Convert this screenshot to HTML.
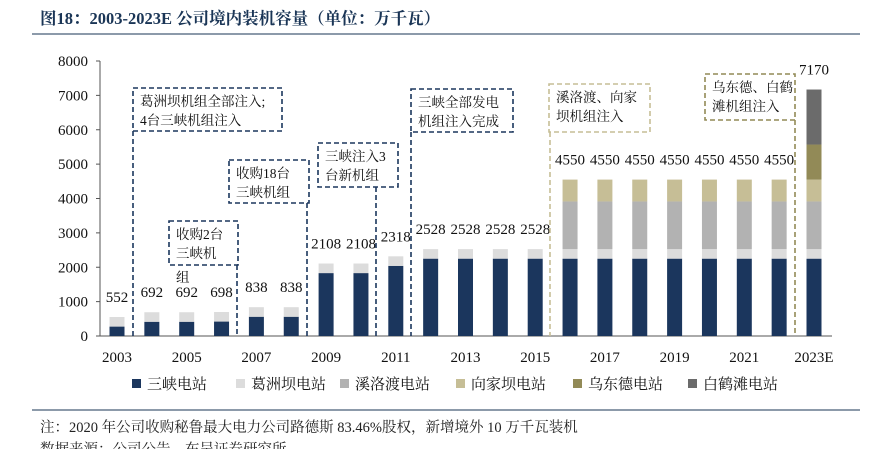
<!DOCTYPE html>
<html><head><meta charset="utf-8"><style>
body{margin:0;background:#fff;width:869px;height:449px;overflow:hidden;font-family:"Liberation Serif","Noto Serif CJK SC",serif;}
</style></head><body>
<svg width="869" height="449" xmlns="http://www.w3.org/2000/svg" style="font-family:'Liberation Serif','Noto Serif CJK SC',serif">
<text x="40" y="24" font-size="16.5" font-weight="bold" fill="#1a3556">图18：2003-2023E 公司境内装机容量（单位：万千瓦）</text>
<line x1="32" y1="34" x2="860" y2="34" stroke="#1a3556" stroke-width="1"/>
<g id="plot"></g>
<g id="legend"></g>
<line x1="32" y1="410" x2="860" y2="410" stroke="#1a3556" stroke-width="1"/>
<text x="40" y="432" font-size="14.5" fill="#222">注：2020 年公司收购秘鲁最大电力公司路德斯 83.46%股权，新增境外 10 万千瓦装机</text>
<text x="40" y="454" font-size="14.5" fill="#222">数据来源：公司公告，东吴证券研究所</text>
</svg>
<script>
const years=["2003","2004","2005","2006","2007","2008","2009","2010","2011","2012","2013","2014","2015","2016","2017","2018","2019","2020","2021","2022","2023E"];
const sanxia=[274,414,414,420,560,560,1830,1830,2040,2250,2250,2250,2250,2250,2250,2250,2250,2250,2250,2250,2250];
const gezhouba=[278,278,278,278,278,278,278,278,278,278,278,278,278,278,278,278,278,278,278,278,278];
const xiluodu=[0,0,0,0,0,0,0,0,0,0,0,0,0,1386,1386,1386,1386,1386,1386,1386,1386];
const xiangjiaba=[0,0,0,0,0,0,0,0,0,0,0,0,0,636,636,636,636,636,636,636,636];
const wudongde=[0,0,0,0,0,0,0,0,0,0,0,0,0,0,0,0,0,0,0,0,1020];
const baihetan=[0,0,0,0,0,0,0,0,0,0,0,0,0,0,0,0,0,0,0,0,1600];
const totals=["552","692","692","698","838","838","2108","2108","2318","2528","2528","2528","2528","4550","4550","4550","4550","4550","4550","4550","7170"];
const yTicks=[0,1000,2000,3000,4000,5000,6000,7000,8000];
const seriesNames=["三峡电站","葛洲坝电站","溪洛渡电站","向家坝电站","乌东德电站","白鹤滩电站"];
const colors=["#1b365d","#dcdcdc","#b2b2b2","#c6be96","#928a57","#6b6b6b"];
const series=[sanxia,gezhouba,xiluodu,xiangjiaba,wudongde,baihetan];
const NS="http://www.w3.org/2000/svg";
const y0=336,yTop=61,yMax=8000;
function ys(v){return y0-v/yMax*(y0-yTop);}
function xs(i){return 117+i*34.85;}
const g=document.getElementById('plot');
function mk(t,a,p){const e=document.createElementNS(NS,t);for(const k in a)e.setAttribute(k,a[k]);(p||g).appendChild(e);return e;}
let ax=mk('line',{x1:100,y1:yTop,x2:100,y2:y0,stroke:'#555'});


let bx=mk('line',{x1:100,y1:y0,x2:832,y2:y0,stroke:'#555'});


yTicks.forEach(v=>{
 mk('line',{x1:96,y1:ys(v),x2:100,y2:ys(v),stroke:'#555'});
 const t=mk('text',{x:88,y:ys(v)+5,'text-anchor':'end','font-size':15,fill:'#111'});t.textContent=v;
 
 
});
years.forEach((yr,i)=>{
 let acc=0;
 series.forEach((s,k)=>{
  if(s[i]<=0)return;
  const r=mk('rect',{x:xs(i)-7.5,y:ys(acc+s[i]),width:15,height:ys(acc)-ys(acc+s[i]),fill:colors[k]});
  
  
  acc+=s[i];
 });
 const t=mk('text',{x:xs(i),y:ys(acc)-15,'text-anchor':'middle','font-size':15,fill:'#111'});t.textContent=totals[i];
 
 
 if(i%2==0){const l=mk('text',{x:xs(i),y:362,'text-anchor':'middle','font-size':15,fill:'#111'});l.textContent=yr;
 
 }
});
const ann=[
 {x:133,y:88,w:149,h:43,c:'#1b365d',t:["葛洲坝机组全部注入;","4台三峡机组注入"],lx:133,ly:131},
 {x:169,y:221,w:69,h:44,c:'#1b365d',t:["收购2台","三峡机"],lx:237,ly:265},
 {x:229,y:160,w:80,h:43,c:'#1b365d',t:["收购18台","三峡机组"],lx:307,ly:203},
 {x:318,y:143,w:80,h:44,c:'#1b365d',t:["三峡注入3","台新机组"],lx:376,ly:187},
 {x:411,y:89,w:102,h:43,c:'#1b365d',t:["三峡全部发电","机组注入完成"],lx:411,ly:132},
 {x:549,y:84,w:101,h:48,c:'#c6be96',t:["溪洛渡、向家","坝机组注入"],lx:550,ly:132},
 {x:705,y:74,w:90,h:46,c:'#928a57',t:["乌东德、白鹤","滩机组注入"],lx:795,ly:120}
];
ann.forEach((a,i)=>{
 const r=mk('rect',{x:a.x,y:a.y,width:a.w,height:a.h,fill:'none',stroke:a.c,'stroke-width':1.6,'stroke-dasharray':'5,3'});
 
 
 mk('line',{x1:a.lx,y1:a.ly,x2:a.lx,y2:y0,stroke:a.c,'stroke-width':1.6,'stroke-dasharray':'5,3'});
 a.t.forEach((s,j)=>{const t=mk('text',{x:a.x+7,y:a.y+18+j*19,'font-size':13.5,fill:'#111'});t.textContent=s;
 
 });
});
const ex=mk('text',{x:176,y:282,'font-size':13.5,fill:'#111'});ex.textContent="组";
const lg=document.getElementById('legend');
const lx=[132,236,340,456,573,688];
seriesNames.forEach((n,k)=>{
 const r=mk('rect',{x:lx[k],y:379,width:9,height:9,fill:colors[k]},lg);
 
 
 const t=mk('text',{x:lx[k]+15,y:389,'font-size':15,fill:'#111'},lg);t.textContent=n;
 
 
});
</script>
</body></html>
